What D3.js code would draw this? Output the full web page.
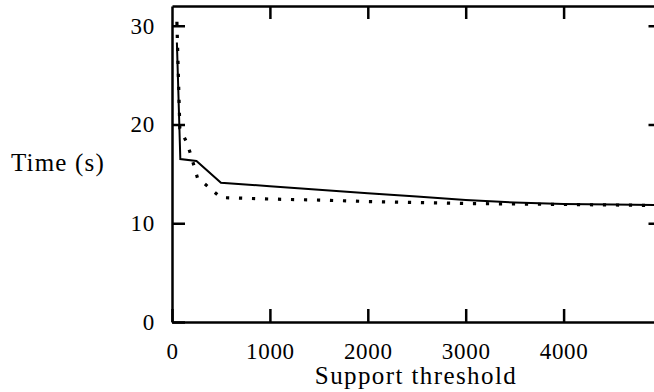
<!DOCTYPE html>
<html>
<head>
<meta charset="utf-8">
<script src="https://cdn.jsdelivr.net/npm/d3@7"></script>
<style>
body { margin: 0; background: #fff; }
text { font-family: "Liberation Serif", serif; }
</style>
</head>
<body>
<svg width="654" height="392"></svg>
<script>
// support threshold values and running times
var solidSupport = [50, 85, 250, 500, 1000, 1500, 2000, 2500, 3000, 3500, 4000, 4500, 5000];
var solidTime = [28.3, 16.5, 16.3, 14.1, 13.75, 13.4, 13.05, 12.7, 12.35, 12.1, 11.95, 11.9, 11.85];

var dottedSupport = [50, 80, 150, 190, 260, 500, 1000, 1500, 2000, 2500, 3000, 3500, 4000, 4500, 5000];
var dottedTime = [30.4, 19.6, 18.2, 17.0, 14.6, 12.6, 12.45, 12.35, 12.2, 12.1, 12.0, 11.95, 11.9, 11.85, 11.8];

var xTicks = [0, 1000, 2000, 3000, 4000];
var yTicks = [0, 10, 20, 30];

var svg = d3.select("svg");
var plotLeft = 172, plotTop = 6, plotRight = 661.5, plotBottom = 322;

var x = d3.scaleLinear().domain([0, 5000]).range([plotLeft, plotRight]);
var y = d3.scaleLinear().domain([0, 32]).range([plotBottom, plotTop]);

var line = d3.line()
  .x(function(d) { return x(d[0]); })
  .y(function(d) { return y(d[1]); });

function styleAxis(g) {
  g.select(".domain").attr("stroke-width", 2.5);
  g.selectAll(".tick line").attr("stroke-width", 2.5);
  g.selectAll(".tick text")
    .attr("font-family", "Liberation Serif, serif")
    .attr("font-size", "23px")
    .attr("letter-spacing", "0.7px")
    .attr("fill", "#000");
}

// bottom and left axes with labels, ticks pointing inward
svg.append("g")
  .attr("transform", "translate(0," + plotBottom + ")")
  .call(d3.axisBottom(x).tickValues(xTicks).tickFormat(d3.format("d"))
    .tickSize(-13).tickSizeOuter(0).tickPadding(21))
  .call(styleAxis);

svg.append("g")
  .attr("transform", "translate(" + plotLeft + ",0)")
  .call(d3.axisLeft(y).tickValues(yTicks).tickFormat(d3.format("d"))
    .tickSize(-13).tickSizeOuter(0).tickPadding(17))
  .call(styleAxis);

// top and right mirror ticks
svg.append("g")
  .attr("transform", "translate(0," + plotTop + ")")
  .call(d3.axisTop(x).tickValues(xTicks.slice(1)).tickSize(-13).tickSizeOuter(0).tickFormat(""))
  .call(styleAxis);

svg.append("g")
  .attr("transform", "translate(" + plotRight + ",0)")
  .call(d3.axisRight(y).tickValues(yTicks.slice(1)).tickSize(-13).tickSizeOuter(0).tickFormat(""))
  .call(styleAxis);

svg.append("path")
  .datum(d3.zip(solidSupport, solidTime))
  .attr("fill", "none")
  .attr("stroke", "#000")
  .attr("stroke-width", 2)
  .attr("d", line);

svg.append("path")
  .datum(d3.zip(dottedSupport, dottedTime))
  .attr("fill", "none")
  .attr("stroke", "#000")
  .attr("stroke-width", 3.2)
  .attr("stroke-dasharray", "3.2,9.8")
  .attr("d", line);

svg.append("text")
  .attr("x", 58)
  .attr("y", 171)
  .attr("text-anchor", "middle")
  .attr("font-size", "25px")
  .attr("letter-spacing", "1.2px")
  .text("Time (s)");

svg.append("text")
  .attr("x", 416)
  .attr("y", 384)
  .attr("text-anchor", "middle")
  .attr("font-size", "25px")
  .attr("letter-spacing", "1.4px")
  .text("Support threshold");
</script>
</body>
</html>
